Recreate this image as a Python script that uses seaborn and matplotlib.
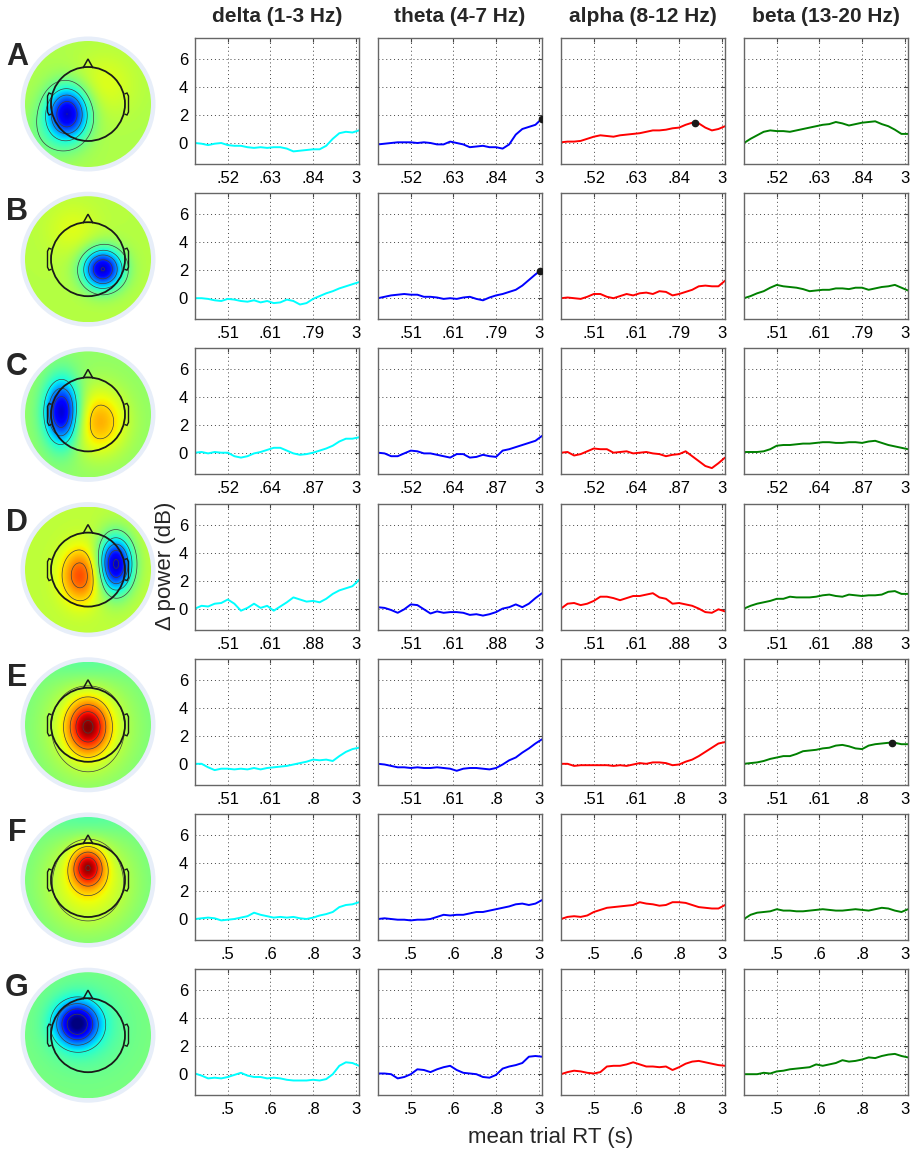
import numpy as np
import matplotlib
matplotlib.use("Agg")
import matplotlib.pyplot as plt
import seaborn as sns
from matplotlib.patches import Circle, Polygon

# ---- data ----
bands = ["delta (1-3 Hz)", "theta (4-7 Hz)", "alpha (8-12 Hz)", "beta (13-20 Hz)"]
band_colors = ["#00ffff", "#0000ff", "#ff0000", "#008000"]
rows = ["A", "B", "C", "D", "E", "F", "G"]

rt_labels = [
    [".52", ".63", ".84", "3"],
    [".51", ".61", ".79", "3"],
    [".52", ".64", ".87", "3"],
    [".51", ".61", ".88", "3"],
    [".51", ".61", ".8", "3"],
    [".5", ".6", ".8", "3"],
    [".5", ".6", ".8", "3"],
]
rt_tick_pos = [0.2, 0.46, 0.72, 0.98]

# position in the RT-sorted trial window (fraction of the axis)
trial_pos = np.linspace(0, 1, 26)

delta = [
    [0, -0.05, -0.15, -0.05, 0.0, -0.15, -0.2, -0.2, -0.3, -0.35, -0.3, -0.35, -0.3, -0.3, -0.4, -0.6, -0.55, -0.5, -0.45, -0.45, -0.2, 0.3, 0.7, 0.8, 0.75, 0.9],
    [0.0, 0.0, -0.05, -0.15, -0.2, -0.05, -0.1, -0.2, -0.25, -0.15, -0.3, -0.2, -0.35, -0.3, -0.1, -0.2, -0.45, -0.35, -0.05, 0.15, 0.35, 0.5, 0.7, 0.85, 1.0, 1.15],
    [0.05, 0.1, 0.0, 0.1, 0.05, 0.05, -0.2, -0.3, -0.2, 0.0, 0.1, 0.25, 0.4, 0.4, 0.2, 0.0, -0.1, -0.05, 0.05, 0.2, 0.35, 0.55, 0.85, 1.05, 1.05, 1.15],
    [0.0, 0.2, 0.15, 0.35, 0.4, 0.65, 0.35, -0.15, 0.05, 0.35, 0.05, 0.2, -0.15, 0.15, 0.45, 0.8, 0.65, 0.5, 0.55, 0.45, 0.7, 1.05, 1.3, 1.45, 1.6, 2.05],
    [0.0, 0.0, -0.25, -0.45, -0.35, -0.35, -0.4, -0.35, -0.4, -0.3, -0.4, -0.3, -0.25, -0.2, -0.15, -0.05, 0.05, 0.15, 0.3, 0.25, 0.3, 0.2, 0.55, 0.85, 1.05, 1.15],
    [0.0, 0.05, 0.1, 0.05, -0.1, -0.05, 0.0, 0.1, 0.2, 0.45, 0.3, 0.2, 0.1, 0.15, 0.1, 0.15, 0.05, 0.0, 0.1, 0.25, 0.35, 0.5, 0.85, 1.0, 1.05, 1.2],
    [0.05, -0.1, -0.3, -0.25, -0.3, -0.2, -0.05, 0.1, -0.1, -0.2, -0.2, -0.3, -0.25, -0.3, -0.4, -0.45, -0.45, -0.45, -0.4, -0.45, -0.35, 0.0, 0.6, 0.85, 0.8, 0.6],
]
theta = [
    [-0.1, -0.05, 0.0, 0.05, 0.05, 0.05, 0.0, 0.05, 0.0, -0.1, -0.1, 0.1, 0.0, -0.1, -0.3, -0.25, -0.2, -0.3, -0.3, -0.4, -0.1, 0.6, 1.0, 1.15, 1.3, 1.75],
    [0.0, 0.1, 0.2, 0.25, 0.3, 0.25, 0.25, 0.1, 0.1, 0.05, -0.05, 0.0, -0.05, 0.05, 0.1, -0.05, -0.15, 0.05, 0.2, 0.3, 0.45, 0.6, 0.9, 1.3, 1.7, 2.05],
    [0.05, 0.0, -0.2, -0.2, 0.0, 0.2, 0.15, 0.0, 0.0, -0.1, -0.2, -0.3, -0.05, -0.05, -0.3, -0.25, -0.1, -0.2, -0.25, 0.2, 0.3, 0.45, 0.6, 0.75, 0.9, 1.25],
    [0.1, 0.05, -0.1, -0.3, -0.05, 0.3, 0.25, -0.05, -0.35, -0.2, -0.3, -0.25, -0.25, -0.3, -0.45, -0.4, -0.5, -0.4, -0.25, 0.0, 0.1, 0.3, 0.1, 0.35, 0.75, 1.1],
    [0.0, -0.05, -0.15, -0.25, -0.25, -0.3, -0.25, -0.3, -0.3, -0.25, -0.3, -0.35, -0.5, -0.35, -0.3, -0.3, -0.35, -0.4, -0.3, -0.05, 0.25, 0.45, 0.8, 1.1, 1.45, 1.75],
    [0.0, 0.05, 0.0, -0.05, -0.05, -0.1, -0.05, -0.05, 0.0, 0.15, 0.3, 0.25, 0.3, 0.3, 0.4, 0.5, 0.5, 0.6, 0.7, 0.8, 0.9, 1.05, 1.1, 1.0, 1.1, 1.35],
    [0.05, 0.05, 0.0, -0.3, -0.2, 0.0, 0.35, 0.3, 0.15, 0.35, 0.5, 0.6, 0.3, 0.1, 0.05, 0.0, -0.2, -0.25, -0.05, 0.4, 0.55, 0.65, 0.8, 1.25, 1.3, 1.25],
]
alpha = [
    [0.05, 0.1, 0.1, 0.15, 0.3, 0.45, 0.55, 0.5, 0.45, 0.55, 0.6, 0.65, 0.7, 0.8, 0.9, 0.9, 0.95, 1.05, 1.1, 1.3, 1.45, 1.4, 1.1, 0.9, 1.0, 1.2],
    [0.0, 0.05, 0.0, -0.05, 0.1, 0.3, 0.3, 0.1, 0.0, 0.15, 0.3, 0.2, 0.35, 0.4, 0.3, 0.5, 0.45, 0.2, 0.3, 0.45, 0.6, 0.85, 0.9, 0.85, 0.85, 1.25],
    [0.05, 0.1, -0.15, -0.05, 0.15, 0.35, 0.3, 0.3, 0.05, 0.1, 0.15, 0.0, 0.05, 0.1, 0.0, -0.05, -0.2, -0.1, -0.05, 0.15, -0.2, -0.55, -0.9, -1.05, -0.7, -0.3],
    [0.0, 0.35, 0.4, 0.25, 0.35, 0.55, 0.85, 0.85, 0.75, 0.6, 0.75, 0.9, 0.9, 1.0, 1.1, 0.8, 0.7, 0.35, 0.4, 0.3, 0.2, 0.0, -0.25, -0.3, -0.05, -0.2],
    [0.0, 0.0, -0.15, -0.1, -0.1, -0.1, -0.1, -0.1, -0.15, -0.1, -0.15, -0.05, 0.05, 0.0, 0.1, 0.1, 0.05, -0.1, -0.05, 0.15, 0.3, 0.55, 0.85, 1.15, 1.45, 1.55],
    [0.0, 0.15, 0.2, 0.15, 0.25, 0.5, 0.65, 0.8, 0.85, 0.9, 0.95, 1.0, 1.2, 1.1, 1.05, 0.95, 1.0, 1.2, 1.2, 1.15, 1.0, 0.85, 0.8, 0.75, 0.75, 1.0],
    [0.0, 0.15, 0.25, 0.2, 0.1, 0.05, 0.15, 0.55, 0.6, 0.6, 0.7, 0.85, 0.7, 0.55, 0.55, 0.5, 0.55, 0.3, 0.5, 0.75, 0.9, 0.95, 0.85, 0.75, 0.65, 0.6],
]
beta = [
    [0.0, 0.3, 0.55, 0.8, 0.9, 0.85, 0.85, 0.8, 0.9, 1.0, 1.1, 1.2, 1.3, 1.35, 1.5, 1.4, 1.25, 1.35, 1.45, 1.5, 1.55, 1.35, 1.2, 0.95, 0.65, 0.65],
    [0.0, 0.15, 0.35, 0.5, 0.75, 0.95, 0.85, 0.8, 0.75, 0.65, 0.5, 0.55, 0.6, 0.6, 0.7, 0.7, 0.65, 0.75, 0.75, 0.6, 0.7, 0.8, 0.85, 0.95, 0.75, 0.55],
    [0.1, 0.1, 0.1, 0.15, 0.3, 0.55, 0.6, 0.6, 0.65, 0.7, 0.7, 0.75, 0.8, 0.8, 0.75, 0.75, 0.8, 0.8, 0.75, 0.85, 0.9, 0.75, 0.6, 0.5, 0.4, 0.3],
    [0.0, 0.2, 0.35, 0.45, 0.55, 0.7, 0.7, 0.85, 0.8, 0.8, 0.8, 0.85, 0.95, 1.0, 0.9, 0.85, 1.0, 0.95, 0.9, 0.95, 0.95, 1.0, 1.2, 1.25, 1.05, 1.05],
    [0.0, 0.05, 0.1, 0.2, 0.35, 0.45, 0.55, 0.55, 0.7, 0.9, 0.95, 1.0, 1.1, 1.15, 1.3, 1.35, 1.25, 1.1, 1.05, 1.3, 1.4, 1.45, 1.5, 1.5, 1.4, 1.4],
    [0.0, 0.3, 0.45, 0.5, 0.55, 0.7, 0.6, 0.6, 0.55, 0.55, 0.6, 0.65, 0.7, 0.65, 0.6, 0.6, 0.65, 0.7, 0.65, 0.6, 0.7, 0.8, 0.75, 0.6, 0.5, 0.7],
    [0.0, 0.0, 0.0, 0.1, 0.05, 0.2, 0.25, 0.35, 0.4, 0.45, 0.5, 0.7, 0.6, 0.7, 0.8, 1.0, 0.9, 0.95, 1.05, 1.2, 1.15, 1.3, 1.4, 1.45, 1.3, 1.2],
]
band_data = [delta, theta, alpha, beta]

# significant points (row, band, position, dB)
sig_row = [0, 0, 1, 4]
sig_band = [1, 2, 1, 3]
sig_pos = [1.0, 0.82, 0.99, 0.9]
sig_val = [1.7, 1.45, 1.95, 1.5]

# scalp maps: background level and sources (x, y, amplitude, sx, sy) in head radii
topo_bg = [0.12, 0.14, 0.05, 0.16, -0.05, -0.05, 0.0]
topo_src = [
    [(-0.55, -0.25, -0.95, 0.4, 0.5), (0.45, 0.55, 0.12, 0.6, 0.6), (-1.2, -0.9, -0.1, 0.6, 0.6)],
    [(0.4, -0.27, -1.0, 0.38, 0.38), (-0.4, 0.8, 0.1, 0.5, 0.5)],
    [(-0.7, 0.05, -0.95, 0.33, 0.6), (0.3, -0.2, 0.4, 0.52, 0.62)],
    [(-0.2, -0.15, 0.5, 0.36, 0.5), (0.75, 0.15, -1.05, 0.32, 0.52)],
    [(0.0, -0.05, 0.75, 0.38, 0.48), (0.0, -0.1, 0.3, 0.95, 1.1), (0.0, 1.7, -0.1, 0.8, 0.4)],
    [(0.0, 0.35, 0.7, 0.3, 0.36), (0.0, -0.1, 0.35, 0.9, 0.95), (0.0, 1.7, -0.1, 0.8, 0.4)],
    [(-0.3, 0.3, -0.9, 0.4, 0.4), (-0.1, 0.2, -0.15, 0.8, 0.8)],
]

# ---- figure ----
sns.set_theme(style="white")
plt.rcParams["font.family"] = ["Liberation Sans", "DejaVu Sans"]

W, H = 920, 1151
fig = plt.figure(figsize=(W / 100, H / 100), dpi=100)


def px_axes(left, top, w, h):
    return fig.add_axes([left / W, 1 - (top + h) / H, w / W, h / H])


col_left = [195, 378, 561, 744]
ax_w, ax_h = 164, 126
row_top0, row_step = 38, 155.2

HEAD = 37.0
gx = np.linspace(-63, 63, 181)
GX, GY = np.meshgrid(gx, gx)
all_levels = np.arange(-0.85, 1.0, 0.2)

for r, letter in enumerate(rows):
    top = row_top0 + r * row_step

    # scalp map
    cy = top + ax_h / 2 + 3
    tax = px_axes(18, cy - 70, 140, 140)
    tax.set_xlim(-70, 70)
    tax.set_ylim(-70, 70)
    tax.set_aspect("equal")
    tax.axis("off")
    tax.add_patch(Circle((0, 0), 67.5, fc="#e7eef9", ec="none", zorder=0))
    disk = Circle((0, 0), 63, fc="none", ec="none")
    tax.add_patch(disk)
    field = np.full_like(GX, topo_bg[r])
    U, V = GX / HEAD, GY / HEAD
    for (sx0, sy0, amp, sgx, sgy) in topo_src[r]:
        field += amp * np.exp(-((U - sx0) ** 2 / (2 * sgx ** 2) + (V - sy0) ** 2 / (2 * sgy ** 2)))
    im = tax.imshow(field, extent=(-63, 63, -63, 63), origin="lower", cmap="jet",
                    vmin=-1, vmax=1, interpolation="bilinear", zorder=2)
    im.set_clip_path(disk)
    levels = [lv for lv in all_levels if abs(lv - topo_bg[r]) > 0.12]
    cs = tax.contour(GX, GY, field, levels=levels, colors="#404040", linewidths=0.5,
                     negative_linestyles="solid", zorder=3)
    cs.set_clip_path(disk)
    tax.add_patch(Circle((0, 0), HEAD, fill=False, ec="k", lw=1.3, zorder=4))
    tax.add_patch(Polygon([(-5, HEAD - 1), (0, HEAD + 8), (5, HEAD - 1)], closed=False,
                          fill=False, ec="k", lw=1.1, zorder=4))
    for s in (-1, 1):
        ear = [(s * (HEAD - 0.5), 10), (s * (HEAD + 2), 11), (s * (HEAD + 3.5), 8),
               (s * (HEAD + 3.5), -8), (s * (HEAD + 2), -11), (s * (HEAD - 0.5), -10)]
        tax.add_patch(Polygon(ear, closed=False, fill=False, ec="k", lw=1.0, zorder=4))

    fig.text(17 / W, 1 - (top + 19) / H, letter, fontsize=22, fontweight="bold",
             ha="center", va="center")

    # RT-sorted power panels
    for c in range(4):
        ax = px_axes(col_left[c], top, ax_w, ax_h)
        sns.lineplot(x=trial_pos, y=band_data[c][r], ax=ax, color=band_colors[c],
                     linewidth=1.4)
        for sr, sb, sp, sv in zip(sig_row, sig_band, sig_pos, sig_val):
            if sr == r and sb == c:
                ax.plot([sp], [sv], "o", color="k", ms=4.5, zorder=5)
        ax.set_xlim(0, 1)
        ax.set_ylim(-1.5, 7.5)
        ax.set_yticks([0, 2, 4, 6])
        ax.set_xticks(rt_tick_pos)
        ax.set_xticklabels(rt_labels[r])
        if c > 0:
            ax.set_yticklabels([])
        ax.set_xlabel("")
        ax.set_ylabel("")
        ax.grid(True, linestyle=(0, (1, 3)), color="#444444", linewidth=0.7)
        ax.tick_params(direction="in", length=3, width=0.8, top=True, right=True,
                       labelsize=12, pad=5, color="#444444", labelcolor="black")
        for sp_ in ax.spines.values():
            sp_.set_color("#666666")
            sp_.set_linewidth(1.0)

for c, name in enumerate(bands):
    fig.text((col_left[c] + ax_w / 2) / W, 1 - 17 / H, name, fontsize=15,
             fontweight="bold", ha="center", va="center")

fig.text(166 / W, 1 - 566 / H, "\u0394 power (dB)", fontsize=16, rotation=90,
         ha="center", va="center")
fig.text(551 / W, 1 - 1137 / H, "mean trial RT (s)", fontsize=16,
         ha="center", va="center")

fig.savefig("out.png", dpi=100, facecolor="white")
